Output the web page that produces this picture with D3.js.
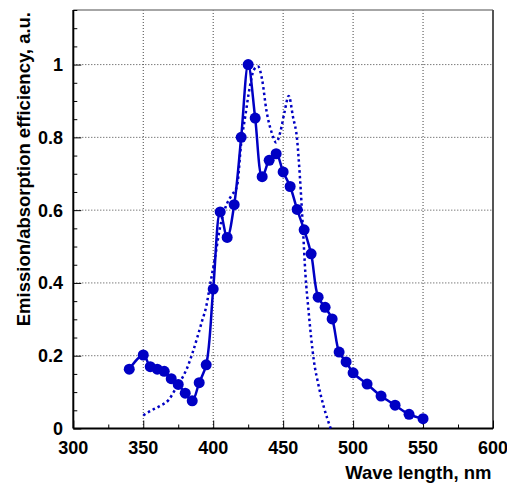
<!DOCTYPE html>
<html><head><meta charset="utf-8">
<script src="https://cdn.jsdelivr.net/npm/d3@7"></script>
<style>body{margin:0;background:#fff}svg{display:block}</style>
</head><body><svg id="c" width="507" height="485"></svg>
<script>
// Emission (points + line)
const emissionX = [340,350,355,360,365,370,375,380,385,390,395,400,405,410,415,420,425,430,435,440,445,450,455,460,465,470,475,480,485,490,495,500,510,520,530,540,550];
const emissionY = [0.163,0.202,0.170,0.163,0.157,0.137,0.121,0.097,0.076,0.126,0.175,0.383,0.595,0.525,0.615,0.800,1.000,0.853,0.692,0.737,0.755,0.705,0.665,0.602,0.546,0.480,0.361,0.333,0.301,0.210,0.183,0.153,0.122,0.089,0.064,0.039,0.027];
// Absorption (dotted curve)
const absorptionX = [350,356,362,368,373,377,381,385,389,392,395,398,401,405,409,413,417,420,423,426,429,432,435,438,442,445,448,451,454,457,460,462,464,466,468,470,472,475,479,484];
const absorptionY = [0.036,0.050,0.062,0.078,0.108,0.133,0.163,0.205,0.255,0.295,0.335,0.400,0.463,0.555,0.610,0.640,0.665,0.784,0.860,0.935,0.985,0.995,0.958,0.875,0.811,0.786,0.815,0.870,0.914,0.857,0.793,0.690,0.560,0.420,0.330,0.250,0.185,0.124,0.060,0.000];
const xTicks = [300,350,400,450,500,550,600];
const yTicks = [0,0.2,0.4,0.6,0.8,1];
const xTitle = "Wave length, nm";
const yTitle = "Emission/absorption efficiency, a.u.";

const svg = d3.select("#c");
const L = 73.3, R = 493, T = 10, B = 428.5;
const x = d3.scaleLinear().domain([300,600]).range([L,R]);
const y = d3.scaleLinear().domain([0,1.15]).range([B,T]);
const blue = "#0000c4";
const font = "'Liberation Sans', Arial, sans-serif";

// grid
const g = svg.append("g");
xTicks.filter(v => v>300 && v<600).forEach(v => {
  g.append("line").attr("x1", x(v)).attr("x2", x(v)).attr("y1", T).attr("y2", B)
    .attr("stroke", "#444").attr("stroke-width", 1).attr("stroke-dasharray", "1,2");
});
yTicks.filter(v => v>0).forEach(v => {
  g.append("line").attr("x1", L).attr("x2", R).attr("y1", y(v)).attr("y2", y(v))
    .attr("stroke", "#444").attr("stroke-width", 1).attr("stroke-dasharray", "1,2");
});

// frame
svg.append("line").attr("x1", L).attr("x2", R).attr("y1", T).attr("y2", T).attr("stroke", "#888").attr("stroke-width", 1.5);
svg.append("line").attr("x1", R).attr("x2", R).attr("y1", T).attr("y2", B).attr("stroke", "#555").attr("stroke-width", 2);

// axes with inward ticks
const xMinor = d3.range(300, 601, 25);
const xAxisMinor = d3.axisTop(x).tickValues(xMinor.filter(v => v % 50 !== 0)).tickSize(4).tickFormat("");
const xAxisMajor = d3.axisTop(x).tickValues(xTicks).tickSize(8).tickFormat("");
svg.append("g").attr("transform", `translate(0,${B})`).call(xAxisMinor).call(s => s.select(".domain").remove());
svg.append("g").attr("transform", `translate(0,${B})`).call(xAxisMajor).call(s => s.select(".domain").remove());
const yMinor = d3.range(0, 1.151, 0.05).filter(v => Math.abs(v*5 - Math.round(v*5)) > 1e-6);
svg.append("g").attr("transform", `translate(${L},0)`).call(d3.axisRight(y).tickValues(yMinor).tickSize(4).tickFormat("")).call(s => s.select(".domain").remove());
svg.append("g").attr("transform", `translate(${L},0)`).call(d3.axisRight(y).tickValues(yTicks).tickSize(8).tickFormat("")).call(s => s.select(".domain").remove());
svg.selectAll(".tick line").attr("stroke", "#000").attr("stroke-width", 1);

svg.append("line").attr("x1", L).attr("x2", R).attr("y1", B).attr("y2", B).attr("stroke", "#000").attr("stroke-width", 2);
svg.append("line").attr("x1", L).attr("x2", L).attr("y1", T).attr("y2", B).attr("stroke", "#000").attr("stroke-width", 2);

// tick labels
svg.append("g").selectAll("text").data(xTicks).join("text")
  .attr("x", d => x(d)).attr("y", 454).attr("text-anchor", "middle")
  .attr("font-family", font).attr("font-weight", "bold").attr("font-size", 18).text(d => d);
svg.append("g").selectAll("text").data(yTicks).join("text")
  .attr("x", 63).attr("y", d => y(d) + 6.5).attr("text-anchor", "end")
  .attr("font-family", font).attr("font-weight", "bold").attr("font-size", 18).text(d => d);

// titles
svg.append("text").attr("x", 491.5).attr("y", 479).attr("text-anchor", "end")
  .attr("font-family", font).attr("font-weight", "bold").attr("font-size", 18.5).text(xTitle);
svg.append("text").attr("transform", "translate(29.5,12) rotate(-90)").attr("text-anchor", "end")
  .attr("font-family", font).attr("font-weight", "bold").attr("font-size", 18.5).text(yTitle);

// absorption dotted
const absData = absorptionX.map((v,i) => [v, absorptionY[i]]);
svg.append("path").datum(absData)
  .attr("d", d3.line().x(d => x(d[0])).y(d => y(d[1])).curve(d3.curveMonotoneX))
  .attr("fill", "none").attr("stroke", blue).attr("stroke-width", 2.5).attr("stroke-dasharray", "2.5,3");

// emission
const emData = emissionX.map((v,i) => [v, emissionY[i]]);
svg.append("path").datum(emData)
  .attr("d", d3.line().x(d => x(d[0])).y(d => y(d[1])).curve(d3.curveCatmullRom.alpha(0.5)))
  .attr("fill", "none").attr("stroke", blue).attr("stroke-width", 2.5);
svg.append("g").selectAll("circle").data(emData).join("circle")
  .attr("cx", d => x(d[0])).attr("cy", d => y(d[1])).attr("r", 5.5).attr("fill", blue);
</script></body></html>
